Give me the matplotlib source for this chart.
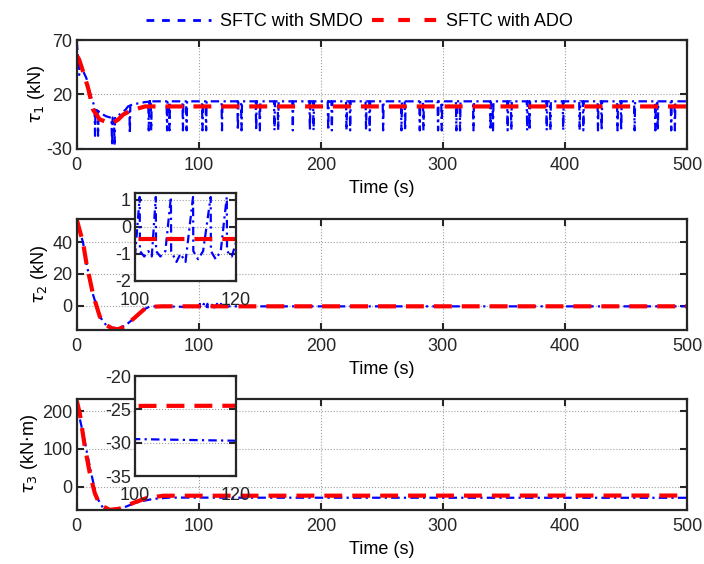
import matplotlib
matplotlib.use("Agg")
import matplotlib.pyplot as plt
from matplotlib.lines import Line2D

plt.rcParams["font.family"] = ["Liberation Sans", "DejaVu Sans"]
plt.rcParams["axes.unicode_minus"] = False
plt.rcParams["font.size"] = 13

# ---------------- data ----------------
# tau1 (kN)
tau1_smdo_t = [0, 1.2, 2.0, 2.5, 5, 7.9, 12, 14.6, 15, 15.4, 16, 17.1, 17.5, 17.9,
               20, 24, 28.4, 29, 29.4, 30.4, 31, 31.4, 35, 40, 42, 43.1, 43.5, 43.9,
               46, 51.6, 56, 62.5]
tau1_smdo_v = [68.5, 52, 38, 50, 42, 35, 16.7, 9, -18, 8, 6, 5, -18, 4.5,
               2.5, 0, -1.5, -27, -1.2, -1, -27, -0.5, 1.5, 6, 9, 9.5, -16, 10,
               11, 12, 13, 13.7]
tau1_smdo_level = 13.7
tau1_spike_depth = -13
tau1_spikes = [59, 61, 74, 76, 87, 90, 103, 106, 119, 132, 135, 147, 150, 162, 165,
               177, 191, 194, 206, 209, 221, 224, 237, 240, 251, 266, 269, 281, 284,
               296, 299, 311, 314, 325, 339, 341, 353, 356, 369, 371, 385, 388, 398.5,
               412, 415, 427, 430, 443, 446, 457, 474, 476, 487, 490]
tau1_ado_t = [0, 2, 5.2, 9.3, 13.4, 18.9, 24, 29.8, 34, 38, 44, 51.6, 56, 500]
tau1_ado_v = [56, 52, 41, 26, 6, -3, -5, -6, -3, 1.5, 5, 7.6, 9, 9]

# tau2 (kN)
tau2_smdo_t = [0, 5.2, 7.9, 13.4, 18.9, 24, 29, 33.9, 38, 42, 47, 51.6, 55, 59.8, 70,
               100.0, 100.9, 100.95, 101.8, 102.6, 103.3, 104.1, 104.15, 105.0, 106.0,
               107.1, 107.15, 108.2, 109.0, 110.0, 111.5, 111.55, 112.5, 113.5, 115.0,
               115.05, 116.0, 117.0, 118.2, 118.25, 119.2, 120.0, 125, 500]
tau2_smdo_v = [54.4, 39.6, 26.9, 6.8, -7, -12.3, -14, -14.4, -13.2, -11.2, -8, -4.8, -2.5, -0.6, -0.5,
               -1.0, 1.1, -0.9, -1.1, -0.9, -1.1, 1.1, -0.9, -1.1, -0.9,
               1.1, -0.9, -1.3, -1.0, -1.3, 1.1, -0.9, -1.2, -0.9, 1.1,
               -0.9, -1.2, -0.9, 1.1, -0.9, -1.1, -0.6, -0.5, -0.5]
tau2_ado_t = [0, 5.2, 7.9, 13.4, 18.9, 24, 29, 33.9, 38, 42, 47, 51.6, 55, 59.8, 70, 500]
tau2_ado_v = [54.4, 39.6, 26.9, 6.8, -7, -12.3, -14.4, -15, -13.5, -11.2, -8, -4.8, -2.5, -0.8, -0.47, -0.47]

# tau3 (kN.m)
tau3_smdo_t = [0, 2.5, 5.2, 10.7, 16, 21.6, 30, 35, 40.7, 46, 51.6, 62.5, 76, 100, 120, 500]
tau3_smdo_v = [228, 180, 141, 53, -26.5, -57, -63, -60, -53, -46, -40, -33, -29.5, -29.45, -29.7, -30]
tau3_ado_t = [0, 2.5, 6.6, 10.7, 14.8, 18.9, 27, 35, 46, 57, 71, 500]
tau3_ado_v = [228, 194, 106, 35.5, -17.7, -48.5, -62, -59, -44, -31, -24.5, -24]

time_ticks = [0, 100, 200, 300, 400, 500]

# build tau1 SMDO with its periodic dips
t1b_t = list(tau1_smdo_t)
t1b_v = list(tau1_smdo_v)
for s in tau1_spikes:
    t1b_t += [s - 0.4, s, s + 0.4]
    t1b_v += [tau1_smdo_level, tau1_spike_depth, tau1_smdo_level]
t1b_t.append(500)
t1b_v.append(tau1_smdo_level)

blue_style = dict(color=(0, 0, 1), lw=1.6, dashes=(3.8, 1.9, 1.0, 1.9))
red_style = dict(color=(1, 0, 0), lw=3.0, dashes=(4.3, 2.4))


def style_axes(ax, fs=13, xpad=5):
    for sp in ax.spines.values():
        sp.set_linewidth(1.6)
        sp.set_color("#262626")
    ax.tick_params(direction="in", top=True, right=True, length=5, width=1.5,
                   labelsize=fs, colors="#262626", pad=3)
    ax.tick_params(axis="x", pad=xpad)
    ax.grid(True, linestyle=":", color="#a0a0a0", linewidth=0.8)


fig = plt.figure(figsize=(7.04, 5.64), dpi=100)
ax1 = fig.add_axes([0.109, 0.736, 0.867, 0.193])
ax2 = fig.add_axes([0.109, 0.415, 0.867, 0.197])
ax3 = fig.add_axes([0.109, 0.096, 0.867, 0.197])

ax1.plot(t1b_t, t1b_v, **blue_style)
ax1.plot(tau1_ado_t, tau1_ado_v, **red_style)
ax1.set_ylim(-30, 70)
ax1.set_yticks([-30, 20, 70])
ax1.set_ylabel(r"$\tau_1$ (kN)", labelpad=0)

ax2.plot(tau2_smdo_t, tau2_smdo_v, **blue_style)
ax2.plot(tau2_ado_t, tau2_ado_v, **red_style)
ax2.set_ylim(-15.4, 54.8)
ax2.set_yticks([0, 20, 40])
ax2.set_ylabel(r"$\tau_2$ (kN)", labelpad=2)

ax3.plot(tau3_smdo_t, tau3_smdo_v, **blue_style)
ax3.plot(tau3_ado_t, tau3_ado_v, **red_style)
ax3.set_ylim(-62, 233)
ax3.set_yticks([0, 100, 200])
ax3.set_ylabel(r"$\tau_3$ (kN$\cdot$m)", labelpad=2)

for ax in (ax1, ax2, ax3):
    ax.set_xlim(0, 500)
    ax.set_xticks(time_ticks)
    ax.set_xlabel("Time (s)", labelpad=4)
    style_axes(ax, xpad=6)

# insets
in2 = fig.add_axes([0.192, 0.502, 0.143, 0.156])
in2.plot(tau2_smdo_t, tau2_smdo_v, **blue_style)
in2.plot(tau2_ado_t, tau2_ado_v, **red_style)
in2.set_xlim(100, 120)
in2.set_ylim(-2, 1.25)
in2.set_xticks([100, 120])
in2.set_yticks([-2, -1, 0, 1])
style_axes(in2, xpad=8)

in3 = fig.add_axes([0.192, 0.156, 0.143, 0.177])
in3.plot(tau3_smdo_t, tau3_smdo_v, **blue_style)
in3.plot(tau3_ado_t, tau3_ado_v, **red_style)
in3.set_xlim(100, 120)
in3.set_ylim(-35, -20)
in3.set_xticks([100, 120])
in3.set_yticks([-35, -30, -25, -20])
style_axes(in3, xpad=8)

handles = [Line2D([], [], color=(0, 0, 1), lw=2.0, dashes=(2.8, 2.8)),
           Line2D([], [], color=(1, 0, 0), lw=3.0, dashes=(2.8, 3.5))]
fig.legend(handles, ["SFTC with SMDO", "SFTC with ADO"], loc="upper center",
           bbox_to_anchor=(0.51, 1.005), ncol=2, frameon=False, fontsize=13,
           handlelength=3.6, columnspacing=0.5, handletextpad=0.5)

fig.savefig("out.png", dpi=100)
